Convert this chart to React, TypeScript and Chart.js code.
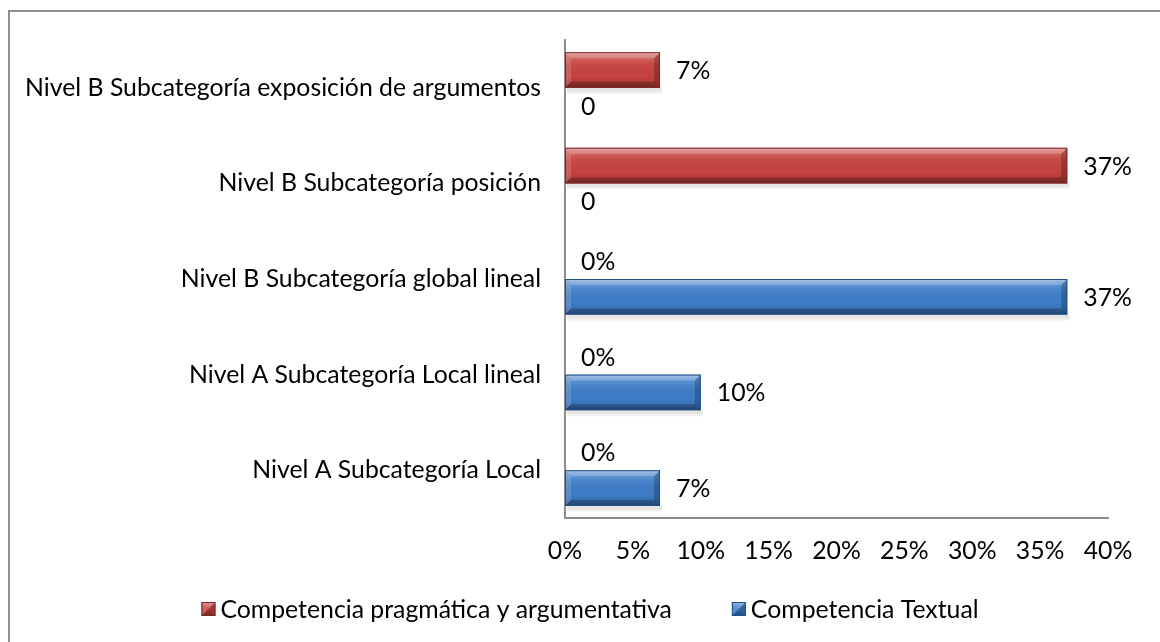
import React, { useEffect, useRef } from 'react';
import { Chart, registerables } from 'chart.js';

Chart.register(...registerables);

// ---- data ----
const categories = [
  'Nivel B Subcategoría exposición de argumentos',
  'Nivel B Subcategoría posición',
  'Nivel B Subcategoría global lineal',
  'Nivel A Subcategoría Local lineal',
  'Nivel A Subcategoría Local',
];
const seriesNames = ['Competencia pragmática y argumentativa', 'Competencia Textual'];
const pragmaticaValues = [7, 37, 0, 0, 0];
const textualValues = [0, 0, 37, 10, 7];
const pragmaticaLabels = ['7%', '37%', '0%', '0%', '0%'];
const textualLabels = ['0', '0', '37%', '10%', '7%'];
const axisMin = 0;
const axisMax = 40;
const axisStep = 5;

// ---- styles ----
const FONT_FAMILY = 'Lato, "Open Sans", "Noto Sans", sans-serif';
const FONT_SIZE = 24.8;
const RED = '#C6433F';
const RED_EDGE = '#7E2624';
const BLUE = '#3E7DC8';
const BLUE_EDGE = '#214F88';
const AXIS_COLOR = '#8C8C8C';
const LEGEND_CENTER_X = 590;
const LEGEND_CENTER_Y = 610;
const LEGEND_BOX = 14;
const LEGEND_BOX_GAP = 5;
const LEGEND_ITEM_GAP = 60;

const valueLabels = [pragmaticaLabels, textualLabels];
const edgeColors = [RED_EDGE, BLUE_EDGE];

function drawBevelRect(ctx: CanvasRenderingContext2D, left: number, top: number, w: number, h: number, edge: string) {
  const right = left + w;
  const bottom = top + h;
  const g = ctx.createLinearGradient(0, top, 0, bottom);
  g.addColorStop(0, 'rgba(255,255,255,0.45)');
  g.addColorStop(0.1, 'rgba(255,255,255,0.22)');
  g.addColorStop(0.3, 'rgba(255,255,255,0.06)');
  g.addColorStop(0.65, 'rgba(0,0,0,0)');
  g.addColorStop(0.9, 'rgba(0,0,0,0.12)');
  g.addColorStop(1, 'rgba(0,0,0,0.28)');
  ctx.fillStyle = g;
  ctx.fillRect(left, top, w, h);
  const b = Math.min(6, w / 2, h / 2);
  ctx.fillStyle = 'rgba(255,255,255,0.22)';
  ctx.beginPath();
  ctx.moveTo(left, top); ctx.lineTo(right, top); ctx.lineTo(right - b, top + b); ctx.lineTo(left + b, top + b);
  ctx.closePath(); ctx.fill();
  ctx.fillStyle = 'rgba(255,255,255,0.15)';
  ctx.beginPath();
  ctx.moveTo(left, top); ctx.lineTo(left + b, top + b); ctx.lineTo(left + b, bottom - b); ctx.lineTo(left, bottom);
  ctx.closePath(); ctx.fill();
  ctx.fillStyle = 'rgba(0,0,0,0.22)';
  ctx.beginPath();
  ctx.moveTo(right, top); ctx.lineTo(right - b, top + b); ctx.lineTo(right - b, bottom - b); ctx.lineTo(right, bottom);
  ctx.closePath(); ctx.fill();
  ctx.fillStyle = 'rgba(0,0,0,0.25)';
  ctx.beginPath();
  ctx.moveTo(left, bottom); ctx.lineTo(right, bottom); ctx.lineTo(right - b, bottom - b); ctx.lineTo(left + b, bottom - b);
  ctx.closePath(); ctx.fill();
  ctx.strokeStyle = edge;
  ctx.lineWidth = 1;
  ctx.strokeRect(left + 0.5, top + 0.5, w - 1, h - 1);
}

const barStylePlugin = {
  id: 'barStyle',
  beforeDatasetsDraw(chart: any) {
    const ctx = chart.ctx;
    ctx.save();
    chart.data.datasets.forEach((_: any, i: number) => {
      const meta = chart.getDatasetMeta(i);
      meta.data.forEach((el: any) => {
        const p = el.getProps(['x', 'y', 'base', 'height'], true);
        const left = Math.min(p.x, p.base);
        const right = Math.max(p.x, p.base);
        if (right - left < 1) return;
        const bottom = p.y + p.height / 2;
        ctx.fillStyle = 'rgba(0,0,0,0.10)';
        ctx.fillRect(left + 2, bottom, right - left, 4);
        ctx.fillStyle = 'rgba(0,0,0,0.05)';
        ctx.fillRect(left + 2, bottom + 4, right - left, 2);
      });
    });
    ctx.restore();
  },
  afterDatasetsDraw(chart: any) {
    const ctx = chart.ctx;
    ctx.save();
    chart.data.datasets.forEach((_: any, i: number) => {
      const meta = chart.getDatasetMeta(i);
      meta.data.forEach((el: any, j: number) => {
        const p = el.getProps(['x', 'y', 'base', 'height'], true);
        const left = Math.min(p.x, p.base);
        const right = Math.max(p.x, p.base);
        const top = p.y - p.height / 2;
        const w = right - left;
        if (w >= 2) drawBevelRect(ctx, left, top, w, p.height, edgeColors[i]);
        ctx.fillStyle = '#000';
        ctx.font = `${FONT_SIZE}px ${FONT_FAMILY}`;
        ctx.textAlign = 'left';
        ctx.textBaseline = 'middle';
        ctx.fillText(valueLabels[i][j], right + 16, p.y + 1);
      });
    });
    ctx.restore();
  },
  afterDraw(chart: any) {
    // legend drawn from the chart's datasets
    const ctx = chart.ctx;
    ctx.save();
    ctx.font = `${FONT_SIZE}px ${FONT_FAMILY}`;
    ctx.textAlign = 'left';
    ctx.textBaseline = 'middle';
    const items = chart.data.datasets.map((ds: any, i: number) => ({
      text: ds.label,
      color: ds.backgroundColor,
      edge: edgeColors[i],
    }));
    const widths = items.map((it: any) => LEGEND_BOX + LEGEND_BOX_GAP + ctx.measureText(it.text).width);
    const total = widths.reduce((a: number, b: number) => a + b, 0) + LEGEND_ITEM_GAP * (items.length - 1);
    let x = LEGEND_CENTER_X - total / 2;
    items.forEach((it: any, i: number) => {
      const by = LEGEND_CENTER_Y - LEGEND_BOX / 2 - 1;
      ctx.fillStyle = it.color;
      ctx.fillRect(x, by, LEGEND_BOX, LEGEND_BOX);
      drawBevelRect(ctx, x, by, LEGEND_BOX, LEGEND_BOX, it.edge);
      ctx.fillStyle = '#000';
      ctx.fillText(it.text, x + LEGEND_BOX + LEGEND_BOX_GAP, LEGEND_CENTER_Y);
      x += widths[i] + LEGEND_ITEM_GAP;
    });
    ctx.restore();
  },
};

export default function App() {
  const canvasRef = useRef<HTMLCanvasElement | null>(null);

  useEffect(() => {
    if (!canvasRef.current) return;
    const chart = new Chart(canvasRef.current, {
      type: 'bar',
      data: {
        labels: categories,
        datasets: [
          {
            label: seriesNames[0],
            data: pragmaticaValues,
            backgroundColor: RED,
            borderWidth: 0,
            categoryPercentage: 0.745,
            barPercentage: 1,
          },
          {
            label: seriesNames[1],
            data: textualValues,
            backgroundColor: BLUE,
            borderWidth: 0,
            categoryPercentage: 0.745,
            barPercentage: 1,
          },
        ],
      },
      options: {
        indexAxis: 'y',
        responsive: false,
        animation: false,
        devicePixelRatio: 1,
        layout: { padding: { left: 0, right: 52, top: 40, bottom: 44 } },
        scales: {
          x: {
            min: axisMin,
            max: axisMax,
            grid: { display: false, drawTicks: false },
            border: { display: true, color: AXIS_COLOR, width: 2 },
            ticks: {
              stepSize: axisStep,
              padding: 18,
              color: '#000',
              font: { family: FONT_FAMILY, size: FONT_SIZE },
              callback: (v: any) => `${v}%`,
            },
            afterFit: (scale: any) => {
              scale.height = 80;
            },
          },
          y: {
            grid: { display: false, drawTicks: false },
            border: { display: true, color: AXIS_COLOR, width: 2 },
            ticks: {
              padding: 24,
              color: '#000',
              font: { family: FONT_FAMILY, size: FONT_SIZE },
            },
            afterFit: (scale: any) => {
              scale.width = 565;
            },
          },
        },
        plugins: {
          legend: { display: false },
          tooltip: { enabled: false },
        },
      },
      plugins: [barStylePlugin],
    } as any);
    return () => chart.destroy();
  }, []);

  return (
    <div>
      <div
        style={{
          position: 'fixed',
          left: 8,
          top: 10,
          width: 1160,
          height: 642,
          borderTop: '2px solid #8E8E8E',
          borderLeft: '2px solid #8E8E8E',
          boxSizing: 'border-box',
        }}
      />
      <canvas
        ref={canvasRef}
        width={1160}
        height={642}
        style={{ position: 'fixed', left: 0, top: 0, width: 1160, height: 642 }}
      />
    </div>
  );
}
